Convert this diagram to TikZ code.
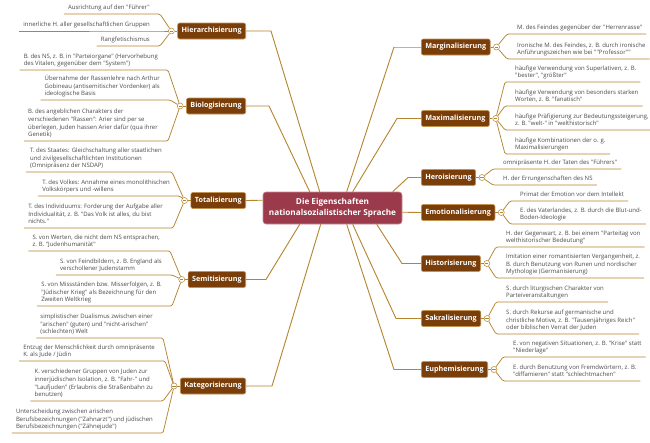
\documentclass[tikz,border=0pt]{standalone}
\usepackage{fontspec}
\setmainfont{Open Sans}[Ligatures=TeXOff]
\usetikzlibrary{calc}
\definecolor{conncol}{HTML}{B5842E}
\definecolor{conncollight}{HTML}{CDB089}
\definecolor{topicfill}{HTML}{7A3E0B}
\definecolor{topicline}{HTML}{C39352}
\definecolor{centerfill}{HTML}{9B3A4B}
\definecolor{centerline}{HTML}{C98A95}
\definecolor{leaftext}{HTML}{4A4A4A}
\tikzset{
  topic/.style={fill=topicfill, draw=topicline, line width=0.6pt, rounded corners=2pt,
    text=white, font=\fontsize{7.2}{8}\selectfont\bfseries, minimum height=16pt,
    inner xsep=4pt, inner ysep=0pt},
  centerbox/.style={fill=centerfill, draw=centerline, line width=0.6pt, rounded corners=3pt,
    text=white, font=\fontsize{8.2}{10.7}\selectfont\bfseries, align=center,
    minimum width=139pt, minimum height=32pt, inner sep=0pt},
  leaf/.style={text=leaftext, font=\fontsize{6.0}{7.8}\selectfont, align=left,
    inner sep=0pt, text depth=1.6pt},
  mainline/.style={draw=conncol, line width=0.9pt},
  leafline/.style={draw=conncol, line width=0.75pt, rounded corners=1.5pt},
  btn/.style={circle, draw=conncol, fill=white, line width=0.5pt, minimum size=6pt,
    inner sep=0pt, path picture={\draw[conncol, line width=0.5pt]
      ([xshift=-1.6pt]path picture bounding box.center) --
      ([xshift=1.6pt]path picture bounding box.center);}},
}
% left leaf: name, button, underline right end x, underline y, text
\newcommand\leafL[5]{%
  \node[leaf, anchor=south east] (#1) at (#3-10, #4-2.4) {#5};
  \draw[leafline] (#2) -- ([xshift=10pt,yshift=-2.4pt]#1.south east)
    -- ([xshift=-4pt,yshift=-2.4pt]#1.south west);}
% right leaf: name, button, underline left start x, underline y, text
\newcommand\leafR[5]{%
  \node[leaf, anchor=south west] (#1) at (#3+10, #4-2.4) {#5};
  \draw[leafline] (#2) -- ([xshift=-10pt,yshift=-2.4pt]#1.south west)
    -- ([xshift=4pt,yshift=-2.4pt]#1.south east);}
\begin{document}
\begin{tikzpicture}[x=1pt, y=-1pt]
\fill[white] (0,0) rectangle (650,442);
\useasboundingbox (0,0) rectangle (650,442);

% center
\node[centerbox] (C) at (332.5,208) {Die Eigenschaften\\nationalsozialistischer Sprache};

% topics left
\node[topic, anchor=east] (hier) at (246,31) {Hierarchisierung};
\node[topic, anchor=east] (bio) at (246,106) {Biologisierung};
\node[topic, anchor=east] (tot) at (246,200.5) {Totalisierung};
\node[topic, anchor=east] (sem) at (246,279.5) {Semitisierung};
\node[topic, anchor=east] (kat) at (246,386) {Kategorisierung};
% topics right
\node[topic, anchor=west] (marg) at (421,47) {Marginalisierung};
\node[topic, anchor=west] (max) at (421,118.5) {Maximalisierung};
\node[topic, anchor=west] (hero) at (421,177.5) {Heroisierung};
\node[topic, anchor=west] (emot) at (421,212.5) {Emotionalisierung};
\node[topic, anchor=west] (hist) at (421,263.5) {Historisierung};
\node[topic, anchor=west] (sak) at (421,318.5) {Sakralisierung};
\node[topic, anchor=west] (euph) at (421,369.5) {Euphemisierung};

% elbows
\coordinate (hierE) at (271,31);
\coordinate (bioE) at (269,106);
\coordinate (semE) at (266,279.5);
\coordinate (katE) at (272,386);
\coordinate (margE) at (394,47);
\coordinate (maxE) at (397,118.5);
\coordinate (heroE) at (408,177.5);
\coordinate (histE) at (402,263.5);
\coordinate (sakE) at (396,318.5);
\coordinate (euphE) at (394,369.5);
% attach points on center
\coordinate (cHier) at ($(C.north west)+(57,0)$);
\coordinate (cBio) at ($(C.north west)+(47,0)$);
\coordinate (cMarg) at ($(C.north west)+(84,0)$);
\coordinate (cMax) at ($(C.north west)+(90,0)$);
\coordinate (cHero) at ($(C.north west)+(130,0)$);
\coordinate (cTot) at ($(C.north west)+(0,8.5)$);
\coordinate (cEmot) at ($(C.north east)+(0,20.5)$);
\coordinate (cHist) at ($(C.south west)+(114,0)$);
\coordinate (cSak) at ($(C.south west)+(90,0)$);
\coordinate (cEuph) at ($(C.south west)+(84,0)$);
\coordinate (cSem) at ($(C.south west)+(37,0)$);
\coordinate (cKat) at ($(C.south west)+(58,0)$);

% main connectors
\draw[mainline] (hier.east) -- (hierE) -- (cHier);
\draw[mainline] (bio.east) -- (bioE) -- (cBio);
\draw[mainline] (tot.east) -- (cTot);
\draw[mainline] (sem.east) -- (semE) -- (cSem);
\draw[mainline] (kat.east) -- (katE) -- (cKat);
\draw[mainline, draw=conncollight] (marg.west) -- (margE);
\draw[mainline] (margE) -- (cMarg);
\draw[mainline] (max.west) -- (maxE) -- (cMax);
\draw[mainline] (hero.west) -- (heroE) -- (cHero);
\draw[mainline] (emot.west) -- (cEmot);
\draw[mainline] (hist.west) -- (histE) -- (cHist);
\draw[mainline] (sak.west) -- (sakE) -- (cSak);
\draw[mainline] (euph.west) -- (euphE) -- (cEuph);

% buttons
\foreach \t in {hier,bio,tot,sem,kat}{
  \node[btn] (\t B) at ([xshift=-6pt]\t.west) {};
  \draw[leafline] (\t.west) -- (\t B);
}
\foreach \t in {marg,max,hero,emot,hist,sak,euph}{
  \node[btn] (\t B) at ([xshift=6pt]\t.east) {};
  \draw[leafline] (\t.east) -- (\t B);
}

% left leaves
\leafL{H1}{hierB}{160}{14}{Ausrichtung auf den "Führer"}
\leafL{H2}{hierB}{160}{31}{innerliche H. aller gesellschaftlichen Gruppen}
\leafL{H3}{hierB}{160}{46}{Rangfetischismus}
\leafL{B1}{bioB}{168}{70}{B. des NS, z. B. in "Parteiorgane" (Hervorhebung\\des Vitalen, gegenüber dem "System")}
\leafL{B2}{bioB}{170}{100}{Übernahme der Rassenlehre nach Arthur\\Gobineau (antisemitischer Vordenker) als\\ideologische Basis}
\leafL{B3}{bioB}{168}{141}{B. des angeblichen Charakters der\\verschiedenen "Rassen": Arier sind per se\\überlegen, Juden hassen Arier dafür (qua ihrer\\Genetik)}
\leafL{T1}{totB}{172}{172}{T. des Staates: Gleichschaltung aller staatlichen\\und zivilgesellschaftlichten Institutionen\\(Omnipräsenz der NSDAP)}
\leafL{T2}{totB}{180}{196}{T. des Volkes: Annahme eines monolithischen\\Volkskörpers und -willens}
\leafL{T3}{totB}{173}{228}{T. des Individuums: Forderung der Aufgabe aller\\Individualität, z. B. "Das Volk ist alles, du bist\\nichts."}
\leafL{S1}{semB}{170}{251}{S. von Werten, die nicht dem NS entsprachen,\\z. B. "Judenhumanität"}
\leafL{S2}{semB}{172}{275}{S. von Feindbildern, z. B. England als\\verschollener Judenstamm}
\leafL{S3}{semB}{172}{306}{S. von Missständen bzw. Misserfolgen, z. B.\\"Jüdischer Krieg" als Bezeichnung für den\\Zweiten Weltkrieg}
\leafL{K1}{katB}{163}{338}{simplistischer Dualismus zwischen einer\\"arischen" (guten) und "nicht-arischen"\\(schlechten) Welt}
\leafL{K2}{katB}{165}{361}{Entzug der Menschlichkeit durch omnipräsente\\K. als Jude / Jüdin}
\leafL{K3}{katB}{163}{401}{K. verschiedener Gruppen von Juden zur\\innerjüdischen Isolation, z. B. "Fahr-" und\\"Laufjuden" (Erlaubnis die Straßenbahn zu\\benutzen)}
\leafL{K4}{katB}{163}{433}{Unterscheidung zwischen arischen\\Berufsbezeichnungen ("Zahnarzt") und jüdischen\\Berufsbezeichnungen ("Zähnejude")}

% right leaves
\leafR{M1}{margB}{507}{34}{M. des Feindes gegenüber der "Herrenrasse"}
\leafR{M2}{margB}{507}{59}{Ironische M. des Feindes, z. B. durch ironische\\Anführungszeichen wie bei ""Professor""}
\leafR{X1}{maxB}{505}{82}{häufige Verwendung von Superlativen, z. B.\\"bester", "größter"}
\leafR{X2}{maxB}{505}{106}{häufige Verwendung von besonders starken\\Worten, z. B. "fanatisch"}
\leafR{X3}{maxB}{505}{130}{häufige Präfigierung zur Bedeutungssteigerung,\\z. B. "welt-" in "welthistorisch"}
\leafR{X4}{maxB}{505}{154}{häufige Kombinationen der o. g.\\Maximalisierungen}
\leafR{E1}{heroB}{493}{169}{omnipräsente H. der Taten des "Führers"}
\leafR{E2}{heroB}{493}{185}{H. der Errungenschaften des NS}
\leafR{O1}{emotB}{510}{201}{Primat der Emotion vor dem Intellekt}
\leafR{O2}{emotB}{510}{224}{E. des Vaterlandes, z. B. durch die Blut-und-\\Boden-Ideologie}
\leafR{I1}{histB}{496}{247}{H. der Gegenwart, z. B. bei einem "Parteitag von\\welthistorischer Bedeutung"}
\leafR{I2}{histB}{496}{278}{Imitation einer romantisierten Vergangenheit, z.\\B. durch Benutzung von Runen und nordischer\\Mythologie (Germanisierung)}
\leafR{A1}{sakB}{496}{302}{S. durch liturgischen Charakter von\\Parteiveranstaltungen}
\leafR{A2}{sakB}{496}{334}{S. durch Rekurse auf germanische und\\christliche Motive, z. B. "Tausenjähriges Reich"\\oder biblischen Verrat der Juden}
\leafR{U1}{euphB}{503}{357}{E. von negativen Situationen, z. B. "Krise" statt\\"Niederlage"}
\leafR{U2}{euphB}{503}{381}{E. durch Benutzung von Fremdwörtern, z. B.\\"diffamieren" statt "schlechtmachen"}
\end{tikzpicture}
\end{document}
